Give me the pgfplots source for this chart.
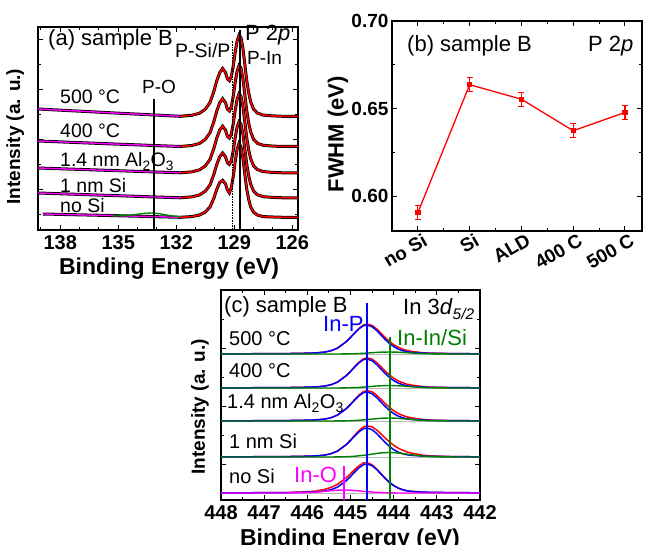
\documentclass[border=0pt]{standalone}
\usepackage{fontspec}
\setmainfont{Liberation Sans}
\usepackage{pgfplots}
\pgfplotsset{compat=1.18}
\usepackage{pgfplotstable}

\definecolor{cblue}{RGB}{0,0,255}
\definecolor{cgreen}{RGB}{0,128,0}
\definecolor{cmag}{RGB}{255,0,255}
\newcommand{\fs}[1]{\fontsize{#1}{#1}\selectfont}

\pgfplotsset{panel/.style={scale only axis, axis line style={line width=1.2pt},
  tick style={black, line width=0.9pt}, major tick length=5pt, minor tick length=3pt,
  tick align=inside, tick label style={font=\bfseries\fs{20}},
  label style={font=\bfseries\fs{23}}}}

% panel (a): fit region, y in pixel units above the axis bottom
\pgfplotstableread{
x t500 t400 tal tsi tno
131.8 113.7 83.5 57.2 32.2 12.7
131.2 114.7 84.5 58.1 33.1 13.4
130.8 116.7 86.5 60.1 35.0 14.9
130.5 120.7 90.5 64.0 38.7 17.9
130.25 127.5 97.3 70.6 45.1 23.1
130.05 138.8 108.6 81.7 55.8 31.9
129.9 149.3 119.1 92.0 65.6 40.8
129.75 157.4 127.2 99.9 73.2 47.5
129.6 161.5 131.3 103.8 77.0 49.7
129.45 157.4 127.2 99.9 73.2 46.0
129.35 151.0 120.8 93.5 67.2 40.1
129.25 149.3 119.1 92.0 65.6 37.1
129.15 153.4 123.2 95.9 69.4 42.3
129.05 163.9 133.7 106.2 79.3 53.4
128.95 177.7 147.5 119.6 92.2 68.2
128.85 189.0 158.8 130.7 102.9 80.8
128.75 194.7 164.5 136.2 108.2 86.7
128.65 192.3 162.1 133.8 105.9 83.0
128.55 181.7 151.5 123.6 96.0 71.9
128.45 165.5 135.3 107.8 80.8 55.6
128.35 149.3 119.1 92.0 65.6 40.8
128.25 137.2 107.0 80.1 54.2 30.5
128.15 128.3 98.1 71.4 45.9 23.1
128.0 121.0 90.8 64.3 39.0 17.9
127.8 116.9 86.7 60.4 35.2 14.9
127.5 114.9 84.7 58.4 33.3 13.4
127.0 114.1 83.9 57.6 32.6 13.0
126.5 113.7 83.5 57.2 32.2 12.7
125.7 113.7 83.5 57.2 32.2 12.7
}\redA
% panel (a): background region
\pgfplotstableread{
x t500 t400 tal tsi
139.15 121.0 89.0 62.0 37.0
135.5 117.3 86.2 59.6 34.6
131.8 113.7 83.5 57.2 32.2
}\bgA
\pgfplotstableread{
x tno
138.9 16.0
135.5 14.5
131.8 12.7
}\bgNo
\pgfplotstableread{
x tno
135.25 14.4
134.85 14.4
134.45 14.7
134.05 15.6
133.65 16.6
133.25 17.0
132.85 16.2
132.45 14.8
132.05 13.7
131.65 12.9
}\poA

% panel (c): blue (In-P), red (fit), component for each spectrum
\pgfplotstableread{
x b5 r5 c5 b4 r4 c4 b3 r3 c3 b2 r2 c2 b1 r1 c1
448 146.1 146.1 146 112.1 112.1 112 79.1 79.1 79 43.1 43.1 43 7.1 7.1 7
447 146.3 146.3 146 112.3 112.3 112 79.3 79.3 79 43.3 43.3 43 7.3 7.3 7
446.5 146.4 146.4 146 112.4 112.4 112 79.4 79.4 79 43.4 43.4 43 7.4 7.4 7.0
446 146.8 146.8 146 112.8 112.8 112 79.8 79.8 79 43.8 43.8 43 7.8 8.2 7.4
445.8 147.1 147.1 146 113.1 113.1 112 80.1 80.1 79 44.1 44.1 43 8.1 9.0 7.9
445.6 147.9 147.9 146 113.9 113.9 112 80.9 80.9 79 44.9 44.9 43 8.9 10.6 8.7
445.45 149.3 149.3 146 115.3 115.3 112 82.3 82.3 79 46.3 46.3 43 10.3 12.6 9.3
445.3 151.9 151.9 146 117.9 117.9 112 84.9 85.0 79.1 48.9 49.0 43.1 12.9 15.7 9.8
445.1 158.2 158.3 146.1 124.2 124.4 112.2 91.2 91.4 79.2 55.2 55.5 43.3 19.2 22.2 10.0
445.0 162.5 162.7 146.2 128.5 128.8 112.3 95.5 95.8 79.3 59.5 60.0 43.5 23.5 26.3 9.8
444.9 167.1 167.4 146.3 133.1 133.5 112.4 100.1 100.6 79.5 64.1 64.9 43.8 28.1 30.6 9.5
444.8 171.3 171.8 146.5 137.3 137.9 112.6 104.3 105.1 79.8 68.3 69.5 44.2 32.3 34.4 9.1
444.7 174.3 175.0 146.7 140.3 141.2 112.9 107.3 108.4 80.1 71.3 73.0 44.7 35.3 37.0 8.7
444.62 175.0 175.9 146.9 141.0 142.2 113.2 108.0 109.4 80.4 72.0 74.1 45.1 36.0 37.4 8.4
444.5 173.3 174.6 147.3 139.3 140.9 113.6 106.3 108.2 80.9 70.3 73.2 45.9 34.3 35.2 7.9
444.4 169.7 171.3 147.6 135.7 137.7 114.0 102.7 105.0 81.3 66.7 70.2 46.5 30.7 31.3 7.6
444.3 165.3 167.1 147.8 131.3 133.5 114.2 98.3 101.0 81.7 62.3 66.3 47.0 26.3 26.7 7.4
444.2 160.7 162.6 147.9 126.7 129.1 114.4 93.7 96.6 81.9 57.7 62.1 47.4 21.7 22.0 7.3
444.1 156.7 158.7 148.0 122.7 125.2 114.5 89.7 92.7 82.0 53.7 58.2 47.5 17.7 17.8 7.1
444.0 153.4 155.3 147.9 119.4 121.8 114.4 86.4 89.3 81.9 50.4 54.8 47.4 14.4 14.5 7.1
443.9 151.0 152.8 147.8 117.0 119.2 114.2 84.0 86.7 81.7 48.0 52.0 47.0 12.0 12.0 7.0
443.8 149.4 151.0 147.6 115.4 117.4 114.0 82.4 84.7 81.3 46.4 49.9 46.5 10.4 10.4 7.0
443.7 148.3 149.6 147.3 114.3 115.9 113.6 81.3 83.2 80.9 45.3 48.2 45.9 9.3 9.3 7
443.6 147.7 148.7 147.0 113.7 115.0 113.3 80.7 82.2 80.5 44.7 47.0 45.3 8.7 8.7 7
443.3 146.8 147.1 146.3 112.8 113.2 112.4 79.8 80.3 79.5 43.8 44.6 43.8 7.8 7.8 7
443.0 146.6 146.7 146.1 112.6 112.7 112.1 79.6 79.7 79.1 43.6 43.8 43.2 7.6 7.6 7
442.5 146.3 146.3 146.0 112.3 112.3 112 79.3 79.3 79 43.3 43.3 43 7.3 7.3 7
442.0 146.2 146.2 146 112.2 112.2 112 79.2 79.2 79 43.2 43.2 43 7.2 7.2 7
}\inC

\begin{document}
\begin{tikzpicture}
\path[use as bounding box] (0pt,0pt) rectangle (647pt,545pt);

% ---------- (a) P 2p ----------
\begin{axis}[panel, at={(38pt,315pt)}, anchor=south west, width=260pt, height=203pt,
  x dir=reverse, xmin=125.7, xmax=139.15, ymin=0, ymax=203,
  xtick={126,129,132,135,138}, xticklabels={126,129,132,135,138},
  minor xtick={127,128,130,131,133,134,136,137,139},
  ytick={41,91,141,191}, minor ytick={16,66,116,166}, yticklabels={},
  xticklabel style={yshift=-2pt},
  xlabel={Binding Energy (eV)}, ylabel={Intensity (a. u.)},
  xlabel style={at={(axis description cs:0.504,-0.19)}, anchor=center},
  ylabel style={font=\bfseries\fs{19}, at={(axis description cs:-0.088,0.46)}, anchor=center}]
\foreach \s in {t500,t400,tal,tsi} {
  \addplot[black, line width=3pt] table[x=x, y=\s] {\bgA};
}
\addplot[black, line width=3pt] table[x=x, y=tno] {\bgNo};
\foreach \s in {t500,t400,tal,tsi,tno} {
  \addplot[black, line width=3pt] table[x=x, y=\s] {\redA};
}
\foreach \s in {t500,t400,tal,tsi} {
  \addplot[cmag, line width=1.4pt] table[x=x, y=\s] {\bgA};
}
\addplot[cmag, line width=1.4pt] table[x=x, y=tno] {\bgNo};
\addplot[cgreen, line width=1.4pt] table[x=x, y=tno] {\poA};
\foreach \s in {t500,t400,tal,tsi,tno} {
  \addplot[red, line width=1.5pt] table[x=x, y=\s] {\redA};
}
\addplot[black, line width=1.3pt] coordinates {(133.15,0) (133.15,131)};
\addplot[black, line width=0.6pt, densely dotted] coordinates {(129.1,0) (129.1,190)};
\addplot[black, line width=1.8pt] coordinates {(128.7,0) (128.7,200)};
\end{axis}

% ---------- (b) FWHM ----------
\begin{axis}[panel, at={(392pt,314pt)}, anchor=south west, width=250pt, height=210pt,
  xmin=-0.5, xmax=4.33, ymin=0.58, ymax=0.70,
  xtick={0,1,2,3,4}, xticklabels={no Si,Si,ALD,400 C,500 C},
  minor xtick={0.5,1.5,2.5,3.5},
  ytick={0.60,0.65,0.70}, yticklabels={0.60,0.65,0.70}, minor ytick={0.625,0.675},
  tick label style={font=\bfseries\fs{19}},
  xticklabel style={rotate=30, anchor=north east, xshift=6pt},
  ylabel={FWHM (eV)},
  ylabel style={font=\bfseries\fs{22}, at={(axis description cs:-0.216,0.46)}, anchor=center}]
\addplot[red, line width=1.3pt, mark=square*, mark size=2pt,
  error bars/.cd, y dir=both, y explicit,
  error bar style={draw=red, line width=1.2pt},
  error mark options={rotate=90, draw=red, mark size=3pt, line width=1.2pt}]
  coordinates {(0,0.5905) +- (0,0.004) (1,0.6636) +- (0,0.004) (2,0.6553) +- (0,0.004)
               (3,0.6373) +- (0,0.004) (4,0.6477) +- (0,0.004)};
\end{axis}

% ---------- (c) In 3d5/2 ----------
\begin{axis}[panel, at={(221pt,45pt)}, anchor=south west, width=259pt, height=210pt,
  x dir=reverse, xmin=442, xmax=448, ymin=0, ymax=210,
  xtick={442,443,444,445,446,447,448}, xticklabels={442,443,444,445,446,447,448},
  minor xtick={442.5,443.5,444.5,445.5,446.5,447.5},
  ytick={36,94,152}, minor ytick={7,65,123,181}, yticklabels={},
  xticklabel style={yshift=-2pt},
  xlabel={Binding Energy (eV)}, ylabel={Intensity (a. u.)},
  xlabel style={at={(axis description cs:0.498,-0.19)}, anchor=center},
  ylabel style={font=\bfseries\fs{19}, at={(axis description cs:-0.081,0.444)}, anchor=center}]
\foreach \b in {145.2,111.2,78.2,42.2,6.2} {
  \addplot[gray!55, line width=1pt] coordinates {(448,\b) (442,\b)};
}
\foreach \i in {1,2,3,4,5} {
  \addplot[red, line width=1.5pt] table[x=x, y=r\i] {\inC};
  \addplot[cblue, line width=1.5pt] table[x=x, y=b\i] {\inC};
}
\foreach \i in {2,3,4,5} {
  \addplot[cgreen, line width=1.4pt] table[x=x, y=c\i] {\inC};
}
\addplot[cmag, line width=1.4pt] table[x=x, y=c1] {\inC};
\addplot[cblue, line width=1.5pt] coordinates {(444.62,0) (444.62,197)};
\addplot[cgreen, line width=1.5pt] coordinates {(444.08,0) (444.08,163)};
\addplot[cmag, line width=1.5pt] coordinates {(445.15,0) (445.15,34)};
\end{axis}

% ---------- texts ----------
\begin{scope}[every node/.style={anchor=base west, inner sep=0pt}]
\node[font=\fs{22}] at (48pt,499pt) {(a) sample B};
\node[font=\fs{22}] at (245pt,504pt) {P 2\textit{p}};
\node[font=\fs{19.5}] at (175pt,487pt) {P-Si/P};
\node[font=\fs{19}] at (247pt,480pt) {P-In};
\node[font=\fs{19}] at (142pt,451pt) {P-O};
\node[font=\fs{19.5}] at (60pt,441pt) {500 °C};
\node[font=\fs{19.5}] at (60pt,407pt) {400 °C};
\node[font=\fs{19.5}] at (60pt,378pt) {1.4 nm Al\textsubscript{2}O\textsubscript{3}};
\node[font=\fs{19.5}] at (60pt,352pt) {1 nm Si};
\node[font=\fs{19.5}] at (60pt,332pt) {no Si};

\node[font=\fs{22}] at (407pt,493pt) {(b) sample B};
\node[font=\fs{22}] at (588pt,493pt) {P 2\textit{p}};

\node[font=\fs{22}] at (224pt,232pt) {(c) sample B};
\node[font=\fs{22}] at (403pt,230pt) {In 3\textit{d}\textsubscript{\textit{5/2}}};
\node[font=\fs{22}, text=cblue] at (323pt,213pt) {In-P};
\node[font=\fs{22}, text=cgreen] at (397pt,199pt) {In-In/Si};
\node[font=\fs{22}, text=cmag] at (294pt,62pt) {In-O};
\node[font=\fs{20}] at (229pt,199pt) {500 °C};
\node[font=\fs{20}] at (229pt,167pt) {400 °C};
\node[font=\fs{20}] at (227pt,136pt) {1.4 nm Al\textsubscript{2}O\textsubscript{3}};
\node[font=\fs{20}] at (229pt,96pt) {1 nm Si};
\node[font=\fs{20}] at (229pt,61pt) {no Si};
\end{scope}
\end{tikzpicture}
\end{document}
